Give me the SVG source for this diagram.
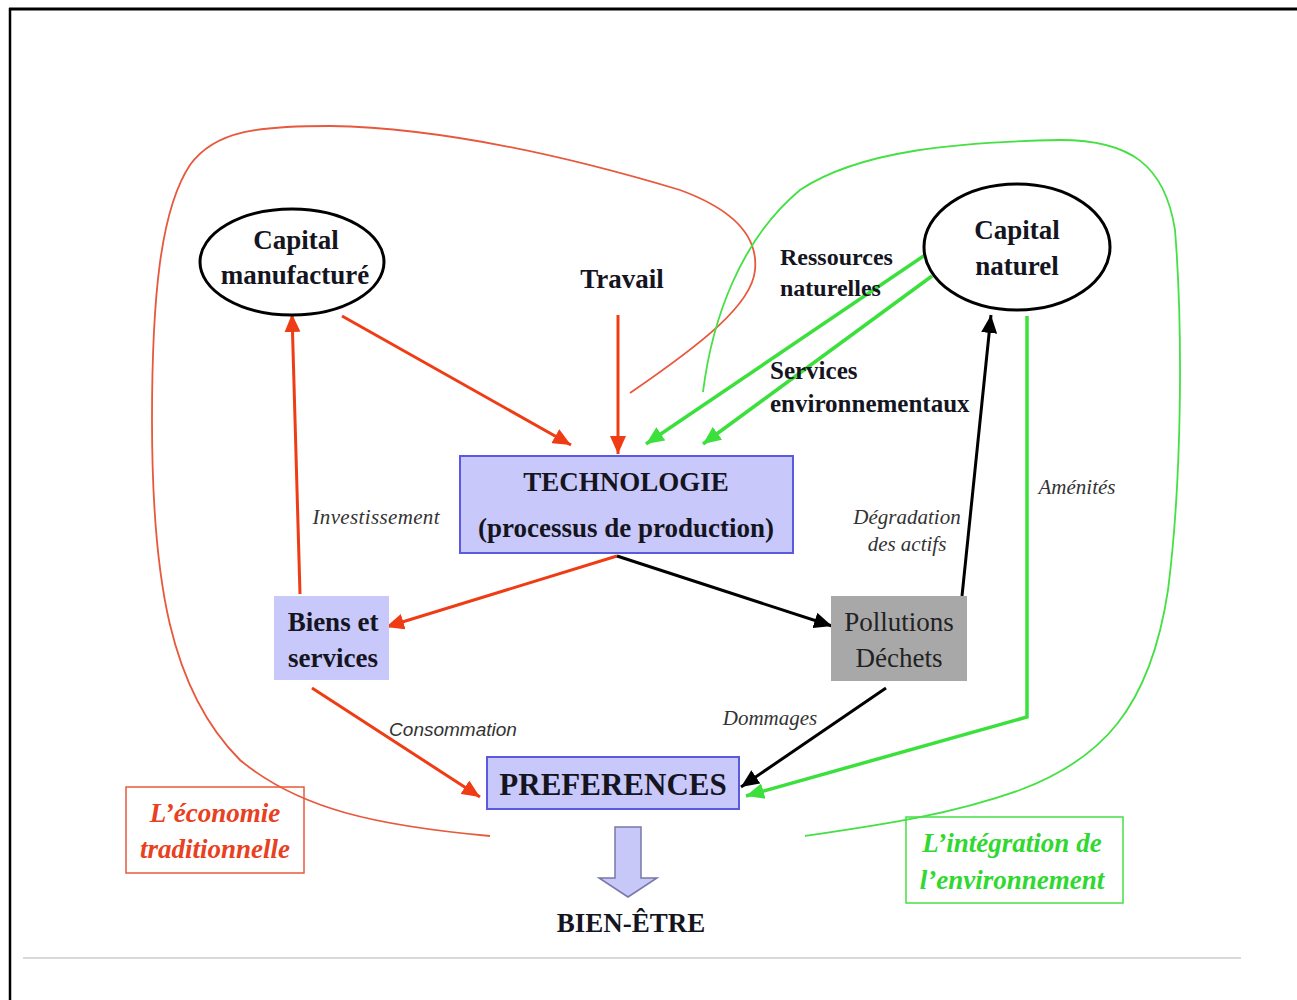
<svg xmlns="http://www.w3.org/2000/svg" width="1297" height="1000" viewBox="0 0 1297 1000">
<style>
.t{font-family:"Liberation Serif","Times New Roman",serif;font-weight:bold;fill:#15151f;text-anchor:middle}
.tl{font-family:"Liberation Serif","Times New Roman",serif;font-weight:bold;fill:#15151f}
.n{font-family:"Liberation Serif","Times New Roman",serif;fill:#222;text-anchor:middle}
.i{font-family:"Liberation Serif","Times New Roman",serif;font-style:italic;fill:#333;text-anchor:middle}
.is{font-family:"Liberation Sans",Arial,sans-serif;font-style:italic;fill:#333;text-anchor:middle}
.bi{font-family:"Liberation Serif","Times New Roman",serif;font-weight:bold;font-style:italic;text-anchor:middle}
.ell{fill:#fff;stroke:#000;stroke-width:3}
.blue{fill:#c8c8fa;stroke:#5a5ae0;stroke-width:2}
.red{stroke:#f03c14;stroke-width:3;fill:none}
.grn{stroke:#3ce03c;stroke-width:3.5;fill:none}
.blk{stroke:#000;stroke-width:3;fill:none}
</style>
<defs>
<marker id="mr" markerUnits="userSpaceOnUse" markerWidth="20" markerHeight="16" refX="18" refY="8" orient="auto"><path d="M0,0 L18,8 L0,16 z" fill="#f03c14"/></marker>
<marker id="mg" markerUnits="userSpaceOnUse" markerWidth="20" markerHeight="16" refX="18" refY="8" orient="auto"><path d="M0,0 L18,8 L0,16 z" fill="#3ce03c"/></marker>
<marker id="mb" markerUnits="userSpaceOnUse" markerWidth="20" markerHeight="16" refX="18" refY="8" orient="auto"><path d="M0,0 L18,8 L0,16 z" fill="#000"/></marker>
</defs>
<rect width="1297" height="1000" fill="#fff"/>
<line x1="9" y1="9" x2="1297" y2="9" stroke="#000" stroke-width="3"/>
<line x1="10" y1="8" x2="10" y2="1000" stroke="#000" stroke-width="2.5"/>
<line x1="23" y1="958" x2="1241" y2="958" stroke="#ccc" stroke-width="1.5"/>

<g id="regions">
<path d="M490,836 C380,826 300,810 240,760 C170,690 152,580 152,420 C152,300 160,210 190,165 C215,130 260,126 330,126 C450,128 580,160 680,190 C740,212 758,240 755,270 C752,305 700,345 630,393" fill="none" stroke="#e8583c" stroke-width="1.8"/>
<path d="M703,392 C712,320 740,240 800,190 C860,150 960,142 1060,140 C1130,140 1165,165 1175,230 C1183,330 1182,480 1168,590 C1150,710 1100,760 1020,790 C950,815 880,825 805,836" fill="none" stroke="#44e044" stroke-width="1.8"/>
</g>

<g id="connectors">
<line class="red" x1="342" y1="316" x2="571" y2="445" marker-end="url(#mr)"/>
<line class="red" x1="618" y1="315" x2="618" y2="454" marker-end="url(#mr)"/>
<line class="grn" x1="925" y1="255" x2="646" y2="444" marker-end="url(#mg)"/>
<line class="grn" x1="932" y1="276" x2="703" y2="444" marker-end="url(#mg)"/>
<line class="red" x1="300" y1="594" x2="292" y2="314" marker-end="url(#mr)"/>
<line class="red" x1="617" y1="556" x2="386" y2="627" marker-end="url(#mr)"/>
<line class="blk" x1="617" y1="556" x2="832" y2="626" marker-end="url(#mb)"/>
<line class="blk" x1="962" y1="596" x2="991" y2="315" marker-end="url(#mb)"/>
<line class="red" x1="312" y1="688" x2="480" y2="797" marker-end="url(#mr)"/>
<line class="blk" x1="886" y1="688" x2="741" y2="787" marker-end="url(#mb)"/>
<polyline class="grn" points="1027,316 1027,717 746,796" marker-end="url(#mg)"/>
<path d="M615,827 L641,827 L641,878 L657,878 L628,897 L599,878 L615,878 Z" fill="#c8c8f8" stroke="#7878a8" stroke-width="1.5"/>
</g>

<g id="labels">
<text class="i" x="376" y="524" font-size="21" textLength="127">Investissement</text>
<text class="i" x="907" y="524" font-size="21">Dégradation</text>
<text class="i" x="907" y="551" font-size="21">des actifs</text>
<text class="i" x="1077" y="494" font-size="21">Aménités</text>
<text class="is" x="453" y="736" font-size="19">Consommation</text>
<text class="i" x="770" y="725" font-size="21">Dommages</text>
<text class="tl" x="780" y="265" font-size="24">Ressources</text>
<text class="tl" x="780" y="296" font-size="24">naturelles</text>
<text class="tl" x="770" y="379" font-size="25">Services</text>
<text class="tl" x="770" y="412" font-size="25">environnementaux</text>
</g>

<g id="capital-manufacture">
<ellipse class="ell" cx="292" cy="262" rx="92" ry="53"/>
<text class="t" x="296" y="249" font-size="27">Capital</text>
<text class="t" x="295" y="284" font-size="27">manufacturé</text>
</g>

<g id="travail">
<text class="t" x="622" y="288" font-size="27">Travail</text>
</g>

<g id="capital-naturel">
<ellipse class="ell" cx="1017" cy="247" rx="93" ry="63"/>
<text class="t" x="1017" y="239" font-size="27">Capital</text>
<text class="t" x="1017" y="275" font-size="27">naturel</text>
</g>

<g id="technologie">
<rect class="blue" x="460" y="456" width="333" height="97"/>
<text class="t" x="626" y="491" font-size="27">TECHNOLOGIE</text>
<text class="t" x="626" y="537" font-size="27">(processus de production)</text>
</g>

<g id="biens">
<rect x="274" y="596" width="115" height="84" fill="#c8c8fa"/>
<text class="t" x="333" y="631" font-size="27">Biens et</text>
<text class="t" x="333" y="667" font-size="27">services</text>
</g>

<g id="pollutions">
<rect x="831" y="596" width="136" height="85" fill="#a8a8a8"/>
<text class="n" x="899" y="631" font-size="27">Pollutions</text>
<text class="n" x="899" y="667" font-size="27">Déchets</text>
</g>

<g id="preferences">
<rect class="blue" x="487" y="757" width="252" height="52"/>
<text class="t" x="613" y="795" font-size="31">PREFERENCES</text>
</g>

<g id="bien-etre">
<text class="t" x="631" y="932" font-size="27">BIEN-ÊTRE</text>
</g>

<g id="economie-traditionnelle">
<rect x="126" y="787" width="178" height="86" fill="none" stroke="#e8583c" stroke-width="1.5"/>
<text class="bi" x="215" y="822" font-size="27" fill="#e84020">L’économie</text>
<text class="bi" x="215" y="858" font-size="27" fill="#e84020">traditionnelle</text>
</g>

<g id="integration-environnement">
<rect x="906" y="817" width="217" height="86" fill="none" stroke="#44e044" stroke-width="1.5"/>
<text class="bi" x="1012" y="852" font-size="27" fill="#30d830">L’intégration de</text>
<text class="bi" x="1012" y="889" font-size="27" fill="#30d830">l’environnement</text>
</g>
</svg>
